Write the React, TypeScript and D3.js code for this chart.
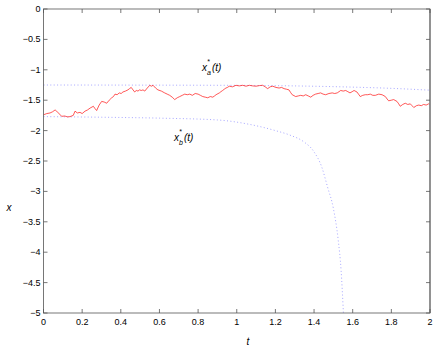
import React from "react";
import * as d3 from "d3";

// red sample path: [t, x]
const path: [number, number][] = [
  [0.0, -1.74], [0.017, -1.72], [0.034, -1.71], [0.047, -1.69], [0.06, -1.66], [0.068, -1.68],
  [0.077, -1.71], [0.094, -1.765], [0.11, -1.76], [0.125, -1.775], [0.137, -1.77], [0.154, -1.75],
  [0.163, -1.68], [0.175, -1.71], [0.189, -1.7], [0.2, -1.72], [0.215, -1.68], [0.228, -1.66],
  [0.241, -1.63], [0.258, -1.6], [0.267, -1.64], [0.275, -1.67], [0.288, -1.58], [0.301, -1.52],
  [0.314, -1.53], [0.327, -1.55], [0.34, -1.5], [0.353, -1.46], [0.362, -1.44], [0.37, -1.4],
  [0.381, -1.41], [0.392, -1.38], [0.402, -1.39], [0.411, -1.365], [0.424, -1.35], [0.437, -1.33],
  [0.445, -1.31], [0.454, -1.29], [0.463, -1.33], [0.472, -1.365], [0.48, -1.34], [0.489, -1.35],
  [0.497, -1.33], [0.506, -1.34], [0.515, -1.33], [0.524, -1.35], [0.537, -1.3], [0.55, -1.255],
  [0.558, -1.27], [0.567, -1.255], [0.58, -1.3], [0.592, -1.33], [0.61, -1.35], [0.627, -1.38],
  [0.64, -1.4], [0.653, -1.42], [0.666, -1.45], [0.679, -1.49], [0.692, -1.46], [0.705, -1.44],
  [0.718, -1.42], [0.731, -1.4], [0.744, -1.41], [0.757, -1.4], [0.77, -1.42], [0.785, -1.39],
  [0.8, -1.4], [0.812, -1.42], [0.824, -1.44], [0.837, -1.45], [0.85, -1.46], [0.863, -1.44],
  [0.876, -1.45], [0.885, -1.43], [0.893, -1.41], [0.91, -1.38], [0.918, -1.36], [0.927, -1.34],
  [0.935, -1.32], [0.944, -1.3], [0.952, -1.29], [0.961, -1.27], [0.978, -1.28], [0.996, -1.255],
  [1.013, -1.265], [1.031, -1.255], [1.048, -1.27], [1.065, -1.255], [1.083, -1.265], [1.1, -1.27],
  [1.117, -1.26], [1.134, -1.255], [1.147, -1.28], [1.16, -1.31], [1.173, -1.28], [1.186, -1.27],
  [1.203, -1.29], [1.219, -1.3], [1.232, -1.29], [1.245, -1.31], [1.258, -1.32], [1.27, -1.33],
  [1.278, -1.37], [1.287, -1.41], [1.305, -1.44], [1.318, -1.43], [1.331, -1.42], [1.344, -1.43],
  [1.357, -1.41], [1.37, -1.43], [1.383, -1.45], [1.395, -1.42], [1.408, -1.4], [1.421, -1.39],
  [1.434, -1.38], [1.447, -1.4], [1.46, -1.41], [1.477, -1.39], [1.494, -1.38], [1.507, -1.39],
  [1.52, -1.38], [1.538, -1.34], [1.551, -1.35], [1.564, -1.34], [1.575, -1.36], [1.586, -1.38],
  [1.597, -1.36], [1.607, -1.34], [1.622, -1.365], [1.63, -1.4], [1.639, -1.44], [1.652, -1.42],
  [1.665, -1.41], [1.678, -1.41], [1.691, -1.4], [1.704, -1.42], [1.717, -1.42], [1.735, -1.4],
  [1.752, -1.41], [1.769, -1.44], [1.778, -1.48], [1.786, -1.51], [1.8, -1.5], [1.812, -1.49],
  [1.829, -1.52], [1.838, -1.56], [1.846, -1.6], [1.859, -1.57], [1.872, -1.55], [1.885, -1.57],
  [1.898, -1.56], [1.907, -1.59], [1.916, -1.62], [1.93, -1.59], [1.942, -1.58], [1.955, -1.59],
  [1.967, -1.57], [1.98, -1.58], [1.993, -1.56], [2.0, -1.57],
];

// upper optimal boundary x*_a(t)
const boundA: [number, number][] = [
  [0, -1.25], [0.5, -1.252], [1.0, -1.256], [1.3, -1.265], [1.6, -1.285], [1.8, -1.305], [2.0, -1.335],
];

// lower optimal boundary x*_b(t)
const boundB: [number, number][] = [
  [0, -1.77], [0.3, -1.78], [0.6, -1.795], [0.9, -1.825], [1.07, -1.9], [1.2, -2.0], [1.28, -2.08],
  [1.345, -2.18], [1.4, -2.35], [1.44, -2.6], [1.47, -2.93], [1.5, -3.28], [1.525, -3.8],
  [1.54, -4.3], [1.552, -5.0],
];

const xTicks = [0, 0.2, 0.4, 0.6, 0.8, 1, 1.2, 1.4, 1.6, 1.8, 2];
const yTicks = [0, -0.5, -1, -1.5, -2, -2.5, -3, -3.5, -4, -4.5, -5];

const W = 436;
const H = 348;
const L = 43.5;
const R = 430;
const T = 9;
const B = 313;

const fmt = (v: number) => String(v).replace("-", "\u2212");

const App = () => {
  const x = d3.scaleLinear().domain([0, 2]).range([L, R]);
  const y = d3.scaleLinear().domain([-5, 0]).range([B, T]);

  const line = d3.line<[number, number]>().x((d) => x(d[0])).y((d) => y(d[1]));
  const smooth = d3
    .line<[number, number]>()
    .x((d) => x(d[0]))
    .y((d) => y(d[1]))
    .curve(d3.curveMonotoneX);

  const font = "'Liberation Sans', Arial, sans-serif";
  const tick = 4;

  return (
    <div style={{ position: "fixed", left: 0, top: 0 }}>
      <svg width={W} height={H} style={{ display: "block", background: "#fff" }} fontFamily={font}>
        <defs>
          <clipPath id="plot">
            <rect x={L} y={T} width={R - L} height={B - T} />
          </clipPath>
        </defs>

        <g clipPath="url(#plot)">
          <path d={smooth(boundA) ?? ""} fill="none" stroke="#9c9cff" strokeWidth={0.9} strokeDasharray="1 2.4" />
          <path d={smooth(boundB) ?? ""} fill="none" stroke="#9c9cff" strokeWidth={0.9} strokeDasharray="1 2.4" />
          <path d={line(path) ?? ""} fill="none" stroke="#ff2020" strokeWidth={0.75} />
        </g>

        {/* box */}
        <rect x={L} y={T} width={R - L} height={B - T} fill="none" stroke="#555" strokeWidth={0.8} />
        <line x1={R} x2={R} y1={T} y2={B} stroke="#888" strokeWidth={1.6} />

        {xTicks.map((v, i) => (
          <g key={"xt" + i}>
            <line x1={x(v)} x2={x(v)} y1={B} y2={B - tick} stroke="#555" strokeWidth={0.8} />
            <line x1={x(v)} x2={x(v)} y1={T} y2={T + tick} stroke="#555" strokeWidth={0.8} />
            <text x={x(v)} y={B + 12} fontSize={9} textAnchor="middle" fill="#000">
              {fmt(v)}
            </text>
          </g>
        ))}

        {yTicks.map((v, i) => (
          <g key={"yt" + i}>
            <line x1={L} x2={L + tick} y1={y(v)} y2={y(v)} stroke="#555" strokeWidth={0.8} />
            <line x1={R} x2={R - tick} y1={y(v)} y2={y(v)} stroke="#555" strokeWidth={0.8} />
            <text x={L - 3} y={y(v) + 3} fontSize={9} textAnchor="end" fill="#000">
              {fmt(v)}
            </text>
          </g>
        ))}

        <text x={248} y={345} fontSize={10} fontStyle="italic" textAnchor="middle">t</text>
        <text x={9} y={211} fontSize={10} fontStyle="italic" textAnchor="middle">x</text>

        {/* boundary labels */}
        <g fontStyle="italic" fontSize={10}>
          <text x={202} y={71}>x</text>
          <text x={207} y={64} fontSize={7}>*</text>
          <text x={207} y={75} fontSize={7}>a</text>
          <text x={212} y={71}>(t)</text>

          <text x={174} y={141}>x</text>
          <text x={179} y={134} fontSize={7}>*</text>
          <text x={179} y={145} fontSize={7}>b</text>
          <text x={184} y={141}>(t)</text>
        </g>
      </svg>
    </div>
  );
};

export default App;
